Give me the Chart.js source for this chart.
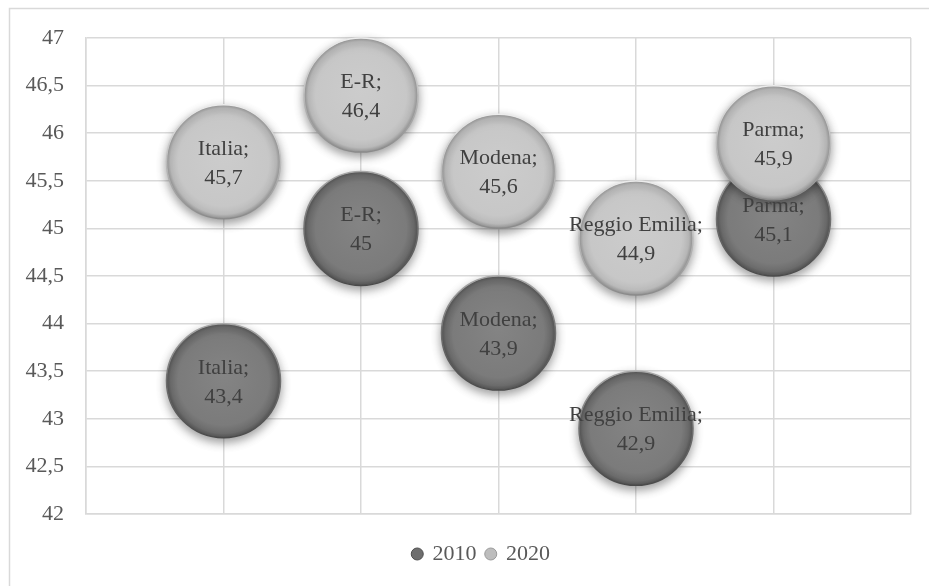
<!DOCTYPE html>
<html>
<head>
<meta charset="utf-8">
<script src="https://cdn.jsdelivr.net/npm/chart.js@4.4.1/dist/chart.umd.min.js"></script>
<style>
  html, body { margin: 0; padding: 0; background: #fff; }
  #wrap { width: 929px; height: 586px; }
</style>
</head>
<body>
<div id="wrap"><canvas id="bubbleChart" width="929" height="586"></canvas></div>
<script>
// data
var categories = ['Italia', 'E-R', 'Modena', 'Reggio Emilia', 'Parma'];
var values2010 = [43.4, 45, 43.9, 42.9, 45.1];
var values2020 = [45.7, 46.4, 45.6, 44.9, 45.9];
var seriesNames = ['2010', '2020'];

var FONT = "'Liberation Serif', 'Times New Roman', serif";
var GRID = '#d9d9d9';
var R = 57;

function comma(v) { return String(v).replace('.', ','); }

function points(vals) {
    return vals.map(function (v, i) { return { x: i + 1, y: v }; });
}

// fake the 3D look of the excel bubbles
function bubbleFill(dark) {
    return function (c) {
        var flat = dark ? '#7c7c7c' : '#c6c6c6';
        if (c.type !== 'data' || !c.raw) return flat;
        var sx = c.chart.scales.x, sy = c.chart.scales.y;
        if (!sx || !sy) return flat;
        var px = sx.getPixelForValue(c.raw.x), py = sy.getPixelForValue(c.raw.y);
        if (!isFinite(px) || !isFinite(py)) return flat;
        var g = c.chart.ctx.createRadialGradient(px, py - 6, 0, px, py, R);
        if (dark) {
            g.addColorStop(0, '#848484');
            g.addColorStop(0.8, '#7b7b7b');
            g.addColorStop(0.93, '#6c6c6c');
            g.addColorStop(1, '#555555');
        } else {
            g.addColorStop(0, '#cccccc');
            g.addColorStop(0.8, '#c7c7c7');
            g.addColorStop(0.93, '#bbbbbb');
            g.addColorStop(1, '#969696');
        }
        return g;
    };
}

function bubbleRim(dark) {
    return function (c) {
        var flat = dark ? '#5a5a5a' : '#a0a0a0';
        if (c.type !== 'data' || !c.raw) return flat;
        var sy = c.chart.scales.y;
        if (!sy) return flat;
        var py = sy.getPixelForValue(c.raw.y);
        if (!isFinite(py)) return flat;
        var g = c.chart.ctx.createLinearGradient(0, py - R, 0, py + R);
        g.addColorStop(0, dark ? '#a8a8a8' : '#ececec');
        g.addColorStop(0.5, dark ? '#707070' : '#bcbcbc');
        g.addColorStop(1, dark ? '#4a4a4a' : '#8a8a8a');
        return g;
    };
}

var framePlugin = {
    id: 'frame',
    beforeDraw: function (chart) {
        var ctx = chart.ctx;
        ctx.save();
        ctx.strokeStyle = GRID;
        ctx.lineWidth = 1.5;
        ctx.strokeRect(9.5, 8.5, 1000, 1000);
        ctx.restore();
    },
    afterLayout: function (chart) {
        // excel centres the legend a bit right of the canvas middle
        if (chart.legend) {
            chart.legend.left += 26;
            chart.legend.right += 26;
        }
    }
};

var shadowPlugin = {
    id: 'bubbleShadow',
    beforeDatasetDraw: function (chart) {
        var ctx = chart.ctx;
        ctx.save();
        ctx.shadowColor = 'rgba(0,0,0,0.38)';
        ctx.shadowBlur = 10;
        ctx.shadowOffsetX = 0;
        ctx.shadowOffsetY = 4;
    },
    afterDatasetDraw: function (chart) {
        chart.ctx.restore();
    }
};

var labelPlugin = {
    id: 'bubbleLabels',
    afterDatasetsDraw: function (chart) {
        var ctx = chart.ctx;
        ctx.save();
        ctx.font = '22px ' + FONT;
        ctx.fillStyle = '#404040';
        ctx.textAlign = 'center';
        ctx.textBaseline = 'alphabetic';
        chart.data.datasets.forEach(function (ds, di) {
            var meta = chart.getDatasetMeta(di);
            meta.data.forEach(function (el, i) {
                ctx.fillText(categories[i] + ';', el.x, el.y - 7);
                ctx.fillText(comma(ds.data[i].y), el.x, el.y + 22);
            });
        });
        ctx.restore();
    }
};

document.addEventListener('DOMContentLoaded', function () {
    var ctx = document.getElementById('bubbleChart').getContext('2d');
    new Chart(ctx, {
        type: 'bubble',
        data: {
            datasets: [{
                label: seriesNames[0],
                data: points(values2010),
                radius: R,
                backgroundColor: bubbleFill(true),
                borderColor: bubbleRim(true),
                borderWidth: 1.5,
                order: 1
            }, {
                label: seriesNames[1],
                data: points(values2020),
                radius: R,
                backgroundColor: bubbleFill(false),
                borderColor: bubbleRim(false),
                borderWidth: 1.5,
                order: 0 // light bubbles sit on top
            }]
        },
        options: {
            responsive: false,
            animation: false,
            events: [],
            clip: false,
            layout: { autoPadding: false, padding: { left: 0, right: 18, top: 38, bottom: 11 } },
            scales: {
                x: {
                    type: 'linear', min: 0, max: 6,
                    ticks: { display: false, stepSize: 1 },
                    grid: { color: GRID, lineWidth: 1.5, drawTicks: false },
                    border: { color: GRID, width: 1.5 },
                    afterFit: function (s) { s.height = 19; }
                },
                y: {
                    min: 42, max: 47,
                    ticks: {
                        stepSize: 0.5, padding: 22, color: '#595959',
                        font: { family: FONT, size: 22 },
                        callback: function (v) { return comma(v); }
                    },
                    grid: { color: GRID, lineWidth: 1.5, drawTicks: false },
                    border: { color: GRID, width: 1.5 },
                    afterFit: function (s) { s.width = 86; }
                }
            },
            plugins: {
                tooltip: { enabled: false },
                legend: {
                    position: 'bottom',
                    labels: {
                        usePointStyle: true,
                        boxWidth: 8.5, boxHeight: 8.5,
                        padding: 10,
                        color: '#595959',
                        font: { family: FONT, size: 22 },
                        sort: function (a, b) { return a.datasetIndex - b.datasetIndex; },
                        generateLabels: function (chart) {
                            var cols = ['#6e6e6e', '#bdbdbd'];
                            var rims = ['#4e4e4e', '#9a9a9a'];
                            return chart.data.datasets.map(function (ds, i) {
                                return {
                                    text: ds.label, datasetIndex: i,
                                    fillStyle: cols[i], strokeStyle: rims[i], lineWidth: 1,
                                    pointStyle: 'circle', fontColor: '#595959', hidden: false
                                };
                            });
                        }
                    }
                }
            }
        },
        plugins: [framePlugin, shadowPlugin, labelPlugin]
    });
});
</script>
</body>
</html>
